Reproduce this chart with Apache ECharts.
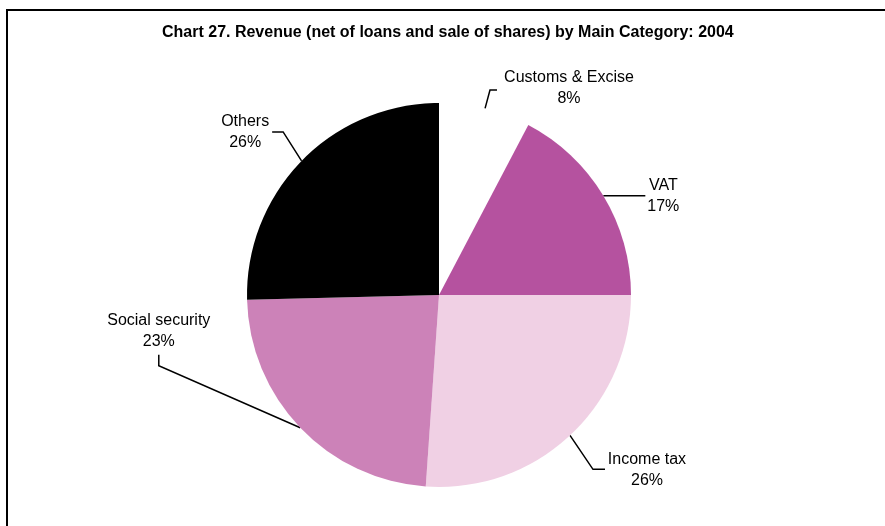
<!DOCTYPE html>
<html><head><meta charset="utf-8">
<script src="https://cdn.jsdelivr.net/npm/echarts@6/dist/echarts.min.js"></script>
<style>html,body{margin:0;padding:0;background:#fff}#c{width:885px;height:526px}</style>
</head><body><div id="c"></div>
<script>
const titleText = 'Chart 27. Revenue (net of loans and sale of shares) by Main Category: 2004';
const categories = ['Customs & Excise', 'VAT', 'Income tax', 'Social security', 'Others'];
// slice sizes
const values = [7.7, 17.3, 26.1, 23.5, 25.4];
// percentage labels as printed on the chart
const percentLabels = ['8%', '17%', '26%', '23%', '26%'];
const colors = ['#ffffff', '#b5529f', '#f0d0e4', '#cc82b8', '#000000'];
// label placement offsets relative to the slice edge point: [bend, lineEnd, labelCenter]
const labelOffsets = [
  [[5, -18.6], [12, -18.6], [84, -20.6]],
  [[21, 0], [42, 0], [60, 0]],
  [[23, 34], [35, 34], [77, 35]],
  [[-141.5, -62], [-141.5, -73], [-141.5, -97]],
  [[-18.4, -29], [-29.4, -29], [-56.4, -29]]
];
const FONT = '"Liberation Sans", Arial, Helvetica, sans-serif';

const chart = echarts.init(document.getElementById('c'), null, {renderer: 'canvas'});
chart.setOption({
  backgroundColor: '#ffffff',
  animation: false,
  title: {
    text: titleText,
    left: 162,
    top: 25,
    padding: 0,
    textStyle: {fontFamily: FONT, fontSize: 16, fontWeight: 'bold', color: '#000'}
  },
  graphic: [{
    type: 'polyline',
    shape: {points: [[7, 526], [7, 10], [885, 10]]},
    style: {stroke: '#000', lineWidth: 2, fill: null}
  }],
  series: [{
    type: 'pie',
    center: [439, 295],
    radius: [0, 192],
    startAngle: 90,
    clockwise: true,
    avoidLabelOverlap: false,
    data: categories.map((c, i) => ({name: c, value: values[i], itemStyle: {color: colors[i]}})),
    itemStyle: {borderWidth: 0},
    label: {
      show: true,
      position: 'outside',
      formatter: p => p.name + '\n' + percentLabels[p.dataIndex],
      fontFamily: FONT,
      fontSize: 16,
      lineHeight: 21,
      color: '#000',
      align: 'center'
    },
    labelLine: {show: true, length: 20, length2: 10, smooth: false, lineStyle: {color: '#000', width: 1.5}},
    labelLayout: function (params) {
      const pts = params.labelLinePoints;
      if (!pts) return {};
      const e = pts[0];
      const o = labelOffsets[params.dataIndex];
      return {
        x: e[0] + o[2][0],
        y: e[1] + o[2][1],
        align: 'center',
        verticalAlign: 'middle',
        labelLinePoints: [[e[0], e[1]], [e[0] + o[0][0], e[1] + o[0][1]], [e[0] + o[1][0], e[1] + o[1][1]]]
      };
    },
    emphasis: {disabled: true}
  }]
});
</script>
</body></html>
